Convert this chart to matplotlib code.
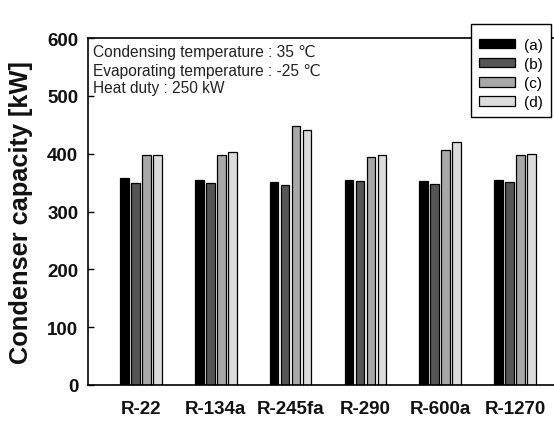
import matplotlib
matplotlib.use("Agg")
import matplotlib.pyplot as plt
import numpy as np

plt.rcParams['font.family'] = ['Liberation Sans', 'DejaVu Sans']

refrigerants = ["R-22", "R-134a", "R-245fa", "R-290", "R-600a", "R-1270"]
series_labels = ["(a)", "(b)", "(c)", "(d)"]
cap_a = [358, 355, 351, 355, 353, 355]
cap_b = [349, 350, 346, 352, 347, 351]
cap_c = [397, 397, 448, 394, 407, 397]
cap_d = [398, 403, 441, 397, 420, 399]
yticks = [0, 100, 200, 300, 400, 500, 600]
info_lines = ["Condensing temperature : 35 \u2103",
              "Evaporating temperature : -25 \u2103",
              "Heat duty : 250 kW"]

colors = ["#000000", "#555555", "#a8a8a8", "#dcdcdc"]

W, H = 554, 427
fig = plt.figure(figsize=(W / 100, H / 100), dpi=100)
left, right, top, bottom = 88, 568, 39, 386
ax = fig.add_axes([left / W, 1 - bottom / H, (right - left) / W, (bottom - top) / H])

x = np.arange(len(refrigerants))
bw = 0.116
pitch = 0.147
handles = []
for i, (vals, c, lab) in enumerate(zip([cap_a, cap_b, cap_c, cap_d], colors, series_labels)):
    h = ax.bar(x + (i - 1.5) * pitch, vals, width=bw, color=c, edgecolor="black",
               linewidth=0.9, label=lab)
    handles.append(h)

ax.set_xlim(-0.709, 5.709)
ax.set_ylim(0, 600)
ax.set_yticks(yticks)
ax.set_xticks(x)
ax.set_xticklabels(refrigerants, fontsize=13.5, fontweight="bold", color="#111111")
ax.set_yticklabels([str(v) for v in yticks], fontsize=13.5, fontweight="bold", color="#111111")
ax.tick_params(axis="y", direction="in", length=4, width=1, pad=7)
ax.tick_params(axis="x", length=0, pad=11)
ax.set_ylabel("Condenser capacity [kW]", fontsize=18.3, fontweight="bold", labelpad=10, color="#111111")
for s in ax.spines.values():
    s.set_linewidth(1.2)

for txt, yb in zip(info_lines, [57.5, 75.6, 93.5]):
    fig.text(93 / W, 1 - yb / H, txt, fontsize=11.2, va="baseline", ha="left", color="#222222")

leg = fig.legend(handles=handles, labels=series_labels, loc="upper left",
                 bbox_to_anchor=(471 / W, 1 - 25 / H), fontsize=11,
                 frameon=True, fancybox=False, edgecolor="black", framealpha=1,
                 title=" ", title_fontsize=1,
                 handlelength=2.4, handleheight=0.6, labelspacing=0.34,
                 handletextpad=0.6, borderpad=0.5, borderaxespad=0)
leg.get_frame().set_linewidth(1.0)

fig.savefig("out.png", dpi=100)
